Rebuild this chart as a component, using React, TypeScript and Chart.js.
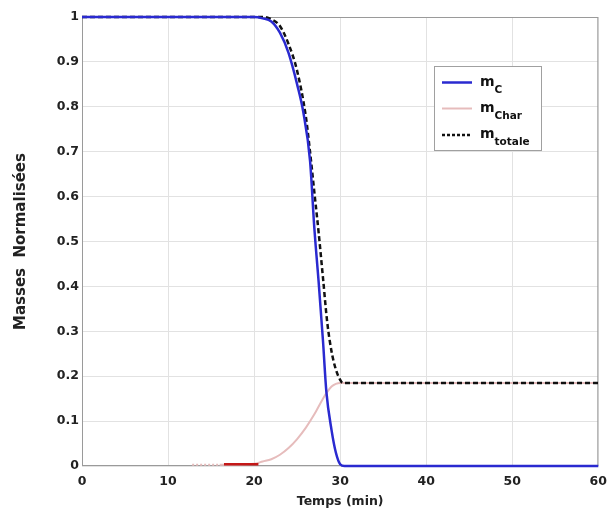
import React, { useEffect, useRef } from "react";
import { Chart, registerables } from "chart.js";

Chart.register(...registerables);

const timeC = [0, 20, 21, 22, 23, 24, 25, 25.7, 26.5, 27, 27.5, 28, 28.4, 29, 29.5, 30, 30.5, 60];
const valuesC = [1, 1, 0.997, 0.99, 0.965, 0.92, 0.85, 0.79, 0.68, 0.53, 0.41, 0.28, 0.165, 0.08, 0.03, 0.004, 0, 0];

const timeChar = [12.8, 16, 20, 21, 22, 23, 24, 25, 26, 27, 28, 28.5, 29, 29.5, 30, 60];
const valuesChar = [0.003, 0.003, 0.005, 0.01, 0.015, 0.025, 0.04, 0.06, 0.085, 0.115, 0.15, 0.165, 0.177, 0.183, 0.185, 0.185];

const timeTot = [0, 21, 22, 23, 24, 25, 26, 26.5, 27, 27.5, 28, 28.5, 29, 29.5, 30, 30.3, 60];
const valuesTot = [1, 1, 0.995, 0.98, 0.94, 0.88, 0.78, 0.7, 0.61, 0.52, 0.42, 0.32, 0.255, 0.215, 0.192, 0.185, 0.185];

const timeRed = [16.5, 20.5];
const valuesRed = [0.004, 0.004];

const xTicks = [0, 10, 20, 30, 40, 50, 60];
const yTicks = [0, 0.1, 0.2, 0.3, 0.4, 0.5, 0.6, 0.7, 0.8, 0.9, 1];

const legendItems = [
  { main: "m", sub: "C", color: "#2a2ad0", dash: [] as number[], width: 2.5 },
  { main: "m", sub: "Char", color: "#e6bcbc", dash: [] as number[], width: 2 },
  { main: "m", sub: "totale", color: "#111111", dash: [3, 2], width: 2.5 },
];

const toXY = (xs: number[], ys: number[]) => xs.map((x, i) => ({ x, y: ys[i] }));

const FONT = "'DejaVu Sans', Verdana, sans-serif";

const framePlugin = {
  id: "frame",
  beforeDatasetsDraw(chart: any) {
    const { ctx, chartArea } = chart;
    ctx.save();
    ctx.strokeStyle = "#9a9a9a";
    ctx.lineWidth = 1;
    ctx.strokeRect(chartArea.left + 0.5, chartArea.top + 0.5, chartArea.right - chartArea.left - 1, chartArea.bottom - chartArea.top - 1);
    ctx.restore();
  },
};

const legendPlugin = {
  id: "customLegend",
  afterDatasetsDraw(chart: any) {
    const { ctx } = chart;
    const bx = 434, by = 66, bw = 107, bh = 84;
    ctx.save();
    ctx.fillStyle = "#ffffff";
    ctx.fillRect(bx, by, bw, bh);
    ctx.strokeStyle = "#a0a0a0";
    ctx.lineWidth = 1;
    ctx.strokeRect(bx + 0.5, by + 0.5, bw, bh);
    const rows = [82.5, 108.5, 135];
    legendItems.forEach((it, i) => {
      const y = rows[i];
      ctx.beginPath();
      ctx.setLineDash(it.dash);
      ctx.strokeStyle = it.color;
      ctx.lineWidth = it.width;
      ctx.moveTo(442, y);
      ctx.lineTo(472, y);
      ctx.stroke();
      ctx.setLineDash([]);
      ctx.fillStyle = "#111";
      ctx.textBaseline = "alphabetic";
      ctx.textAlign = "left";
      ctx.font = `bold 14px ${FONT}`;
      ctx.fillText(it.main, 480, y + 3);
      const w = ctx.measureText(it.main).width;
      ctx.font = `bold 10.5px ${FONT}`;
      ctx.fillText(it.sub, 480 + w, y + 10);
    });
    ctx.restore();
  },
};

export default function App() {
  const ref = useRef<HTMLCanvasElement | null>(null);
  useEffect(() => {
    if (!ref.current) return;
    const chart = new Chart(ref.current, {
      type: "line",
      data: {
        datasets: [
          {
            label: "m_C",
            data: toXY(timeC, valuesC),
            borderColor: "#2a2ad0",
            borderWidth: 2.5,
            pointRadius: 0,
            cubicInterpolationMode: "monotone",
            clip: 4,
            order: 0,
          },
          {
            label: "m_Char",
            data: toXY(timeChar, valuesChar),
            borderColor: "#e6bcbc",
            borderWidth: 2,
            pointRadius: 0,
            cubicInterpolationMode: "monotone",
            clip: 4,
            order: 2,
            segment: {
              borderDash: (c: any) => (c.p1.parsed.x <= 16 ? [2, 2] : undefined),
            },
          },
          {
            label: "m_totale",
            data: toXY(timeTot, valuesTot),
            borderColor: "#111111",
            borderWidth: 2.5,
            borderDash: [5, 3],
            pointRadius: 0,
            cubicInterpolationMode: "monotone",
            clip: 4,
            order: 1,
          },
          {
            label: "red",
            data: toXY(timeRed, valuesRed),
            borderColor: "#c41818",
            borderWidth: 2.5,
            pointRadius: 0,
            clip: 4,
            order: -1,
          },
        ],
      },
      options: {
        animation: false,
        responsive: false,
        layout: { padding: { left: 0, right: 12, top: 17, bottom: 0 } },
        plugins: {
          legend: { display: false },
          tooltip: { enabled: false },
        },
        scales: {
          x: {
            type: "linear",
            min: 0,
            max: 60,
            afterBuildTicks: (s: any) => {
              s.ticks = xTicks.map((v) => ({ value: v }));
            },
            afterFit: (s: any) => {
              s.height = 57;
            },
            grid: { color: "#e2e2e2", drawTicks: false },
            border: { display: false },
            ticks: {
              padding: 8,
              color: "#222",
              font: { family: FONT, size: 12.5, weight: "bold" },
              callback: (v: any) => String(v),
            },
            title: {
              display: true,
              text: "Temps (min)",
              color: "#222",
              font: { family: FONT, size: 12.5, weight: "bold" },
              padding: { top: 0, bottom: 13.5 },
            },
          },
          y: {
            type: "linear",
            min: 0,
            max: 1,
            afterBuildTicks: (s: any) => {
              s.ticks = yTicks.map((v) => ({ value: v }));
            },
            afterFit: (s: any) => {
              s.width = 82;
            },
            grid: { color: "#e2e2e2", drawTicks: false },
            border: { display: false },
            ticks: {
              padding: 3,
              color: "#222",
              font: { family: FONT, size: 12.5, weight: "bold" },
              callback: (v: any) => String(Math.round(v * 10) / 10),
            },
            title: {
              display: true,
              text: "Masses  Normalisées",
              color: "#222",
              font: { family: FONT, size: 15, weight: "bold" },
              padding: { top: 12.5, bottom: 0 },
            },
          },
        },
      },
      plugins: [framePlugin, legendPlugin],
    } as any);
    return () => chart.destroy();
  }, []);
  return (
    <div style={{ position: "absolute", left: 0, top: 0, width: 615, height: 523, background: "#fff" }}>
      <canvas ref={ref} width={615} height={523} style={{ width: 615, height: 523, display: "block" }} />
    </div>
  );
}
